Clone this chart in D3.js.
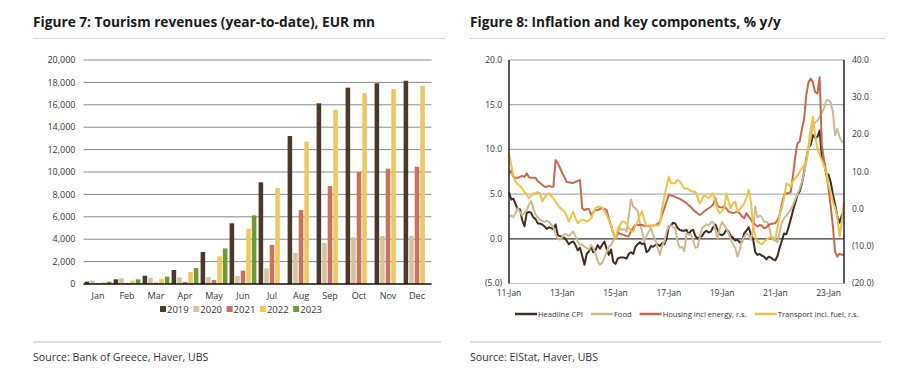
<!DOCTYPE html>
<html>
<head>
<meta charset="utf-8">
<script src="https://cdn.jsdelivr.net/npm/d3@7"></script>
<style>
  body { margin: 0; background: #fff; }
  svg text { font-family: "Open Sans", "Noto Sans", sans-serif; fill: #333; }
</style>
</head>
<body>
<svg id="chart" width="905" height="387"></svg>
<script>
// ---------- Figure 7 data: tourism revenues, EUR mn (year-to-date) ----------
const MONTHS = ["Jan", "Feb", "Mar", "Apr", "May", "Jun", "Jul", "Aug", "Sep", "Oct", "Nov", "Dec"];
const YEARS = ["2019", "2020", "2021", "2022", "2023"];
const REV_2019 = [210, 420, 740, 1250, 2860, 5420, 9080, 13210, 16130, 17530, 17920, 18150];
const REV_2020 = [300, 510, 560, 590, 620, 710, 1400, 2770, 3660, 4170, 4290, 4290];
const REV_2021 = [90, 90, 120, 180, 360, 1190, 3480, 6610, 8750, 10000, 10300, 10470];
const REV_2022 = [150, 300, 480, 1070, 2470, 4940, 8570, 12710, 15540, 17050, 17410, 17680];
const REV_2023 = [210, 420, 660, 1430, 3180, 6130, null, null, null, null, null, null];
const REV_TICKS = [0, 2000, 4000, 6000, 8000, 10000, 12000, 14000, 16000, 18000, 20000];

// ---------- Figure 8 data: inflation, % y/y, monthly Jan-2011 .. Aug-2023 ----------
const CPI_START = "2011-01";
const CPI_END = "2023-08";
const HEADLINE = [
  5.2, 4.4, 4.5, 3.9, 3.3, 3.3, 2.1, 1.4, 2.9, 3.0, 2.9, 2.4,
  2.2, 1.7, 1.7, 1.6, 1.4, 1.1, 1.3, 1.2, 1.1, 1.6, 0.4, 0.3,
  0.2, 0.1, -0.2, -0.6, -0.4, -0.3, -0.7, -1.3, -1.0, -1.9, -2.9, -1.7,
  -1.4, -0.9, -1.5, -1.3, -0.7, -1.1, -0.7, -0.3, -1.1, -1.8, -1.2, -2.6,
  -2.8, -2.2, -2.1, -2.1, -2.1, -2.2, -1.7, -1.5, -1.7, -0.9, -0.6, -0.4,
  -0.6, -0.5, -1.5, -1.3, -0.8, -0.9, -0.7, -0.6, -0.8, -0.5, -0.6, 0.0,
  1.4, 1.5, 1.8, 1.7, 1.2, 1.0, 0.9, 0.9, 1.0, 0.5, 0.9, 1.0,
  0.3, 0.0, 0.2, 0.3, 0.7, 0.9, 0.7, 0.8, 1.3, 1.6, 1.0, 0.5,
  0.4, 0.6, 1.0, 0.8, 0.3, 0.1, -0.2, -0.1, -0.4, -0.3, 0.6, 0.9,
  1.3, 0.5, 0.0, -1.5, -1.8, -1.7, -1.9, -2.0, -2.3, -2.0, -2.1, -2.3,
  -2.4, -1.9, -1.0, -0.2, 0.6, 0.5, 1.3, 2.2, 3.2, 4.0, 4.9, 5.3,
  6.2, 7.5, 8.9, 10.2, 10.5, 11.6, 11.3, 11.4, 12.1, 9.1, 8.5, 7.2,
  7.2, 6.3, 5.0, 3.8, 2.5, 1.8, 2.6, 3.0
];
const FOOD = [
  2.5, 2.6, 2.4, 2.9, 3.4, 3.0, 2.6, 2.9, 3.2, 3.8, 4.2, 3.4,
  2.7, 2.4, 2.1, 2.0, 1.9, 2.0, 1.9, 1.6, 1.3, 0.5, 0.0, -0.1,
  0.2, 0.5, 0.5, 0.3, 0.6, 0.8, 0.3, -0.3, -0.7, -0.6, -0.9, -1.0,
  -1.2, -0.7, -1.0, -1.6, -2.5, -2.9, -2.7, -2.1, -1.5, -0.9, -0.7, -0.2,
  0.1, 0.6, 1.2, 1.0, 1.1, 0.8, 2.5, 4.4, 3.6, 3.4, 3.1, 1.8,
  0.8, -0.3, 0.3, 0.8, 1.2, 0.4, -0.2, -1.0, -1.8, -0.8, -0.3, 0.8,
  1.4, 1.5, 1.3, 1.2, -0.3, -1.0, -0.9, -1.4, 0.6, 0.5, 0.5, -0.2,
  -1.0, -0.9, 0.2, 1.2, 1.4, 1.6, 1.5, 1.8, 1.9, 1.0, 0.0, 1.2,
  1.9, 1.5, 1.2, 0.6, -0.1, -0.6, -1.0, -2.0, -1.2, -0.2, 0.2, 0.6,
  0.4, -0.1, 1.0, 3.6, 2.4, 2.6, 2.4, 1.9, 1.9, 1.6, 0.4, -0.1,
  -0.2, -0.4, 0.8, 1.8, 2.3, 2.6, 2.9, 3.3, 3.8, 4.4, 5.0, 5.6,
  6.4, 7.4, 8.6, 10.0, 11.3, 12.7, 13.0, 13.2, 13.6, 14.1, 14.6, 15.5,
  15.5, 15.2, 14.2, 11.6, 12.3, 11.4, 10.9, 10.7
];
const HOUSING = [
  9.6, 10.3, 8.7, 8.4, 8.4, 8.6, 8.9, 8.6, 9.6, 8.5, 8.4, 8.4,
  8.4, 7.4, 7.0, 6.5, 6.0, 6.0, 6.2, 6.0, 6.0, 13.1, 12.3, 11.0,
  9.6, 8.5, 7.3, 7.2, 7.0, 7.0, 7.3, 7.5, 7.8, 0.2, -0.3, 0.0,
  0.0, -1.6, -0.8, -0.3, -0.3, 0.0, 0.2, 0.0, -0.3, -2.5, -4.5, -6.5,
  -7.9, -6.5, -6.6, -6.8, -7.0, -7.3, -7.3, -6.0, -5.0, -4.3, -4.3, -4.3,
  -4.3, -4.5, -4.6, -4.5, -4.5, -4.4, -4.3, -4.0, -3.4, -1.5, 0.2, 2.0,
  3.75, 3.6, 3.5, 3.2, 3.0, 2.7, 2.4, 2.0, 1.6, 1.0, 0.5, -0.2,
  -0.7, -1.2, -1.6, -1.2, -0.7, -0.2, 0.2, 0.6, 1.2, 2.9, 0.8, 0.5,
  0.4, 0.6, 0.2, -0.7, -0.9, -1.1, -0.9, -0.7, -1.2, -2.0, -2.5, -1.1,
  -2.0, -2.8, -3.8, -4.2, -4.7, -4.3, -4.5, -5.2, -4.9, -4.3, -4.0, -3.9,
  -3.8, -3.0, -1.6, 1.5, 3.75, 4.2, 4.3, 4.6, 9.1, 14.0, 17.6, 18.1,
  21.5, 24.3, 30.5, 34.0, 35.0, 34.0, 31.4, 31.0, 35.4, 17.1, 13.0, 9.5,
  5.5, 0.5, -4.5, -11.5, -12.8, -12.0, -12.3, -12.3
];
const TRANSPORT = [
  14.9, 11.8, 9.0, 7.3, 6.6, 6.2, 5.5, 4.6, 4.0, 2.9, 3.5, 4.2,
  4.2, 4.5, 4.2, 2.0, 3.0, 3.8, 4.2, 3.5, 2.9, 2.0, 1.1, 0.3,
  -0.2, -0.7, -1.8, -3.4, -2.0, -0.7, -2.5, -3.8, -3.2, -2.9, -3.0, -3.4,
  -3.0, -2.5, -1.0, 0.2, 0.6, 0.6, 0.3, -0.5, -1.6, -3.0, -4.3, -6.5,
  -7.9, -5.2, -4.5, -3.4, -3.4, -4.0, -5.2, -5.8, -6.1, -4.5, -3.4, -1.8,
  -0.7, -3.0, -4.7, -4.7, -4.6, -4.5, -4.3, -4.5, -4.0, 0.2, 3.3, 6.0,
  8.7, 6.9, 6.9, 7.0, 7.8, 7.4, 6.5, 5.5, 5.6, 5.3, 4.8, 4.6,
  4.6, 3.0, 1.5, 2.5, 3.75, 3.3, 2.9, 3.5, 4.2, 2.0, -0.3, -1.1,
  -0.5, 0.2, 4.2, 2.0, 0.2, 1.5, 2.0, -0.7, 0.0, 0.6, 1.5, 3.0,
  5.1, 2.0, -4.3, -7.5, -8.8, -9.2, -9.5, -8.8, -8.3, -7.8, -7.4, -7.6,
  -7.9, -5.0, -1.6, 0.5, 2.9, 6.9, 6.5, 6.0, 7.5, 8.2, 9.0, 10.0,
  10.9, 11.8, 12.7, 17.1, 21.6, 24.7, 19.8, 16.0, 14.5, 13.1, 11.5, 10.0,
  6.4, 4.5, 2.0, 0.2, -2.0, -7.4, -3.5, 2.0
];
const LEFT_TICKS = [-5, 0, 5, 10, 15, 20];
const RIGHT_TICKS = [-20, -10, 0, 10, 20, 30, 40];
const DATE_TICKS = ["2011-01", "2013-01", "2015-01", "2017-01", "2019-01", "2021-01", "2023-01"];

const BAR_COLORS = ["#4b3a2c", "#d5c39f", "#c9735a", "#f0c862", "#6e9b30"];
const LINE_SERIES = [
  { name: "Headline CPI", values: HEADLINE, axis: "left", color: "#3f2d21" },
  { name: "Food", values: FOOD, axis: "left", color: "#cdb994" },
  { name: "Housing incl energy, r.s.", values: HOUSING, axis: "right", color: "#c8694b" },
  { name: "Transport incl. fuel, r.s.", values: TRANSPORT, axis: "right", color: "#f0c245" },
];

const svg = d3.select("#chart");
const parseMonth = d3.timeParse("%Y-%m");

function header(x, x2, title, source) {
  svg.append("text")
    .attr("x", x).attr("y", 27)
    .style("font-size", "13.7px").style("font-weight", "700").style("fill", "#1a1a1a")
    .text(title);
  svg.append("line")
    .attr("x1", x).attr("x2", x2).attr("y1", 38.5).attr("y2", 38.5)
    .attr("stroke", "#d6d6d6").attr("stroke-width", 1);
  svg.append("line")
    .attr("x1", x).attr("x2", x2 - 4).attr("y1", 342).attr("y2", 342)
    .attr("stroke", "#dcdcdc").attr("stroke-width", 2);
  svg.append("text")
    .attr("x", x).attr("y", 361)
    .style("font-size", "10.6px").style("fill", "#333")
    .text(source);
}

// ================= Figure 7 =================
(function drawBars() {
  const area = { left: 83.5, right: 431.5, top: 60, bottom: 284 };
  header(33, 445, "Figure 7: Tourism revenues (year-to-date), EUR mn", "Source: Bank of Greece, Haver, UBS");

  const x0 = d3.scaleBand().domain(MONTHS).range([area.left, area.right]);
  const x1 = d3.scaleBand().domain(YEARS).range([0, x0.bandwidth()])
    .paddingInner(0.18).paddingOuter(0.2);
  const y = d3.scaleLinear().domain([0, 20000]).range([area.bottom, area.top]);

  const g = svg.append("g");
  g.selectAll("line.grid")
    .data(REV_TICKS.filter((d) => d > 0))
    .join("line")
    .attr("x1", area.left).attr("x2", area.right)
    .attr("y1", (d) => y(d)).attr("y2", (d) => y(d))
    .attr("stroke", "#8a8a8a").attr("stroke-width", 1);

  g.selectAll("text.ytick")
    .data(REV_TICKS)
    .join("text")
    .attr("x", area.left - 8).attr("y", (d) => y(d)).attr("dy", "0.35em")
    .attr("text-anchor", "end")
    .style("font-size", "9px")
    .text(d3.format(","));

  const series = [REV_2019, REV_2020, REV_2021, REV_2022, REV_2023];
  const cells = [];
  MONTHS.forEach((m, i) => {
    YEARS.forEach((yr, j) => {
      const v = series[j][i];
      if (v != null) cells.push({ month: m, year: yr, value: v, color: BAR_COLORS[j] });
    });
  });

  g.selectAll("rect.bar")
    .data(cells)
    .join("rect")
    .attr("x", (d) => x0(d.month) + x1(d.year))
    .attr("width", x1.bandwidth())
    .attr("y", (d) => y(d.value))
    .attr("height", (d) => y(0) - y(d.value))
    .attr("fill", (d) => d.color);

  g.append("line")
    .attr("x1", area.left).attr("x2", area.right)
    .attr("y1", y(0)).attr("y2", y(0))
    .attr("stroke", "#111").attr("stroke-width", 1.6);

  g.selectAll("text.xtick")
    .data(MONTHS)
    .join("text")
    .attr("x", (d) => x0(d) + x0.bandwidth() / 2)
    .attr("y", area.bottom + 15)
    .attr("text-anchor", "middle")
    .style("font-size", "9px")
    .text((d) => d);

  const lg = g.append("g").attr("transform", "translate(160,312)");
  YEARS.forEach((yr, j) => {
    const item = lg.append("g").attr("transform", `translate(${j * 33.3},0)`);
    item.append("rect").attr("x", 0).attr("y", -6).attr("width", 6).attr("height", 6)
      .attr("fill", BAR_COLORS[j]);
    item.append("text").attr("x", 7).attr("y", 0.5)
      .style("font-size", "9.5px").text(yr);
  });
})();

// ================= Figure 8 =================
(function drawLines() {
  const area = { left: 509, right: 844, top: 60, bottom: 283.5 };
  header(470, 885, "Figure 8: Inflation and key components, % y/y", "Source: ElStat, Haver, UBS");

  const dates = d3.timeMonth.range(parseMonth(CPI_START), d3.timeMonth.offset(parseMonth(CPI_END), 1));
  const x = d3.scaleTime().domain([parseMonth(CPI_START), parseMonth(CPI_END)]).range([area.left, area.right]);
  const yL = d3.scaleLinear().domain([-5, 20]).range([area.bottom, area.top]);
  const yR = d3.scaleLinear().domain([-20, 40]).range([area.bottom, area.top]);
  const fmt = (v) => (v < 0 ? `(${Math.abs(v).toFixed(1)})` : v.toFixed(1));

  const g = svg.append("g");
  g.selectAll("line.grid")
    .data(LEFT_TICKS)
    .join("line")
    .attr("x1", area.left).attr("x2", area.right)
    .attr("y1", (d) => yL(d)).attr("y2", (d) => yL(d))
    .attr("stroke", (d) => (d === 0 ? "#3a3a3a" : d === -5 ? "#c8c8c8" : "#9a9a9a"))
    .attr("stroke-width", (d) => (d === 0 ? 1.3 : 1));

  g.selectAll("text.yl")
    .data(LEFT_TICKS)
    .join("text")
    .attr("x", area.left - 7).attr("y", (d) => yL(d)).attr("dy", "0.35em")
    .attr("text-anchor", "end")
    .style("font-size", "8.5px")
    .text(fmt);

  g.selectAll("text.yr")
    .data(RIGHT_TICKS)
    .join("text")
    .attr("x", area.right + 8).attr("y", (d) => yR(d)).attr("dy", "0.35em")
    .attr("text-anchor", "start")
    .style("font-size", "8.5px")
    .text(fmt);

  g.selectAll("text.xt")
    .data(DATE_TICKS.map(parseMonth))
    .join("text")
    .attr("x", (d) => x(d)).attr("y", area.bottom + 12)
    .attr("text-anchor", "middle")
    .style("font-size", "8.5px")
    .text(d3.timeFormat("%y-%b"));

  for (const s of LINE_SERIES) {
    const yS = s.axis === "left" ? yL : yR;
    const line = d3.line()
      .x((d, i) => x(dates[i]))
      .y((d) => yS(d));
    g.append("path")
      .datum(s.values)
      .attr("d", line)
      .attr("fill", "none")
      .attr("stroke", s.color)
      .attr("stroke-width", 2)
      .attr("stroke-linejoin", "round");
  }

  [area.left, area.right].forEach((xx) => {
    g.append("line")
      .attr("x1", xx).attr("x2", xx).attr("y1", area.top).attr("y2", area.bottom)
      .attr("stroke", "#222").attr("stroke-width", 1.5);
  });

  // legend
  const lg = g.append("g").attr("transform", "translate(515,314)");
  let cx = 0;
  for (const s of LINE_SERIES) {
    lg.append("line").attr("x1", cx).attr("x2", cx + 22).attr("y1", 0).attr("y2", 0)
      .attr("stroke", s.color).attr("stroke-width", 2.5);
    const t = lg.append("text").attr("x", cx + 23).attr("y", 0).attr("dy", "0.35em")
      .style("font-size", "7.6px").text(s.name);
    cx += 23 + t.node().getComputedTextLength() + 8;
  }
})();
</script>
</body>
</html>
